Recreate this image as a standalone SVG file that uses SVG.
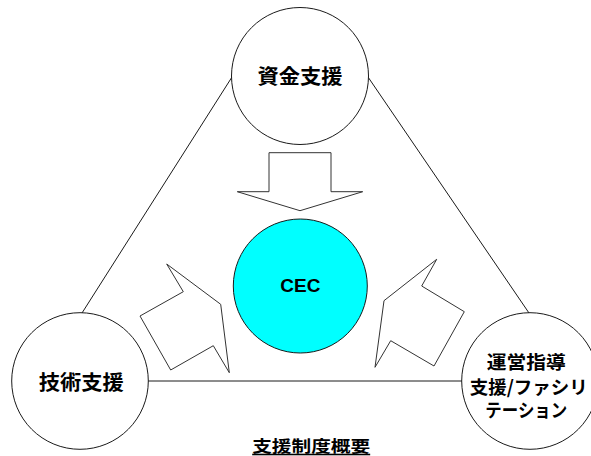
<svg xmlns="http://www.w3.org/2000/svg" width="591" height="456" viewBox="0 0 591 456">
  <style>
    .bg { fill: #ffffff; }
    .edge { stroke: #1a1a1a; stroke-width: 1; fill: none; }
    .node { fill: #ffffff; stroke: #1a1a1a; stroke-width: 1; }
    .cec { fill: #00ffff; stroke: #1a1a1a; stroke-width: 1; }
    .arrow { fill: #ffffff; stroke: #333333; stroke-width: 1; stroke-linejoin: miter; }
    .jp { font-family: "Noto Sans CJK JP", "Noto Sans CJK SC", sans-serif; font-weight: bold; font-size: 20px; fill: #000000; text-anchor: middle; dominant-baseline: central; }
    .jps { font-size: 18.5px; }
    .lat { font-family: "Liberation Sans", Arial, sans-serif; font-weight: bold; font-size: 19px; fill: #000000; text-anchor: middle; }
  </style>
  <rect class="bg" x="0" y="0" width="591" height="456"/>
  <g id="connectors">
    <line class="edge" x1="232" y1="77" x2="82" y2="313"/>
    <line class="edge" x1="368" y1="77" x2="529" y2="313"/>
    <line class="edge" x1="148" y1="381" x2="462" y2="381"/>
  </g>
  <g id="arrows">
    <polygon class="arrow" points="269,152.7 331,152.7 331,191.7 362.7,191.7 300,210.7 237.3,191.7 269,191.7"/>
    <polygon class="arrow" points="166.7,264 183.3,291.7 140,316 170.7,370 213.3,345.7 229.3,372.7 220.7,304.3"/>
    <polygon class="arrow" points="436.7,259.3 421.7,286 464.3,311.7 434,366 390.7,340.7 375,367.3 384,300.7"/>
  </g>
  <g id="node-funding">
    <circle class="node" cx="300" cy="76" r="68.5"/>
    <text class="jp" x="300" y="75" textLength="85" lengthAdjust="spacingAndGlyphs">資金支援</text>
  </g>
  <g id="node-cec">
    <circle class="cec" cx="300.3" cy="286" r="67"/>
    <text class="lat" x="300.3" y="292.3">CEC</text>
  </g>
  <g id="node-technical">
    <circle class="node" cx="80" cy="381" r="68.3"/>
    <text class="jp" x="81.3" y="381" textLength="85" lengthAdjust="spacingAndGlyphs">技術支援</text>
  </g>
  <g id="node-management">
    <circle class="node" cx="530" cy="381" r="68.3"/>
    <text class="jp jps" x="526.3" y="360.5" textLength="79" lengthAdjust="spacingAndGlyphs">運営指導</text>
    <text class="jp jps" x="528.7" y="385.5" textLength="118" lengthAdjust="spacingAndGlyphs">支援/ファシリ</text>
    <text class="jp jps" x="526.3" y="408.7" textLength="82" lengthAdjust="spacingAndGlyphs">テーション</text>
  </g>
  <g id="title">
    <text class="jp" x="311.2" y="444.7" style="font-size:16px; text-decoration: underline;" textLength="118" lengthAdjust="spacingAndGlyphs">支援制度概要</text>
  </g>
</svg>
